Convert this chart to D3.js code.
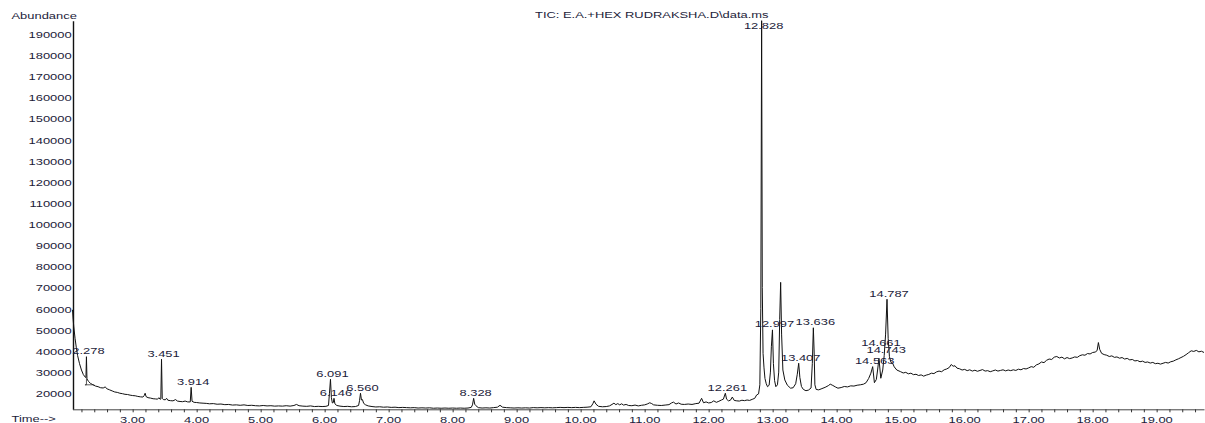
<!DOCTYPE html>
<html>
<head>
<meta charset="utf-8">
<script src="https://cdn.jsdelivr.net/npm/d3@7"></script>
<style>
  html, body { margin: 0; padding: 0; background: #fff; }
  svg { display: block; }
  text { font-family: "Liberation Sans", Arial, sans-serif; font-size: 9.5px; fill: #1c1c3a; }
</style>
</head>
<body>
<svg id="chart" width="1205" height="423"></svg>
<script>
// ---- data (time in min, abundance) ----
const title = "TIC: E.A.+HEX RUDRAKSHA.D\\data.ms";
const yTickValues = [20000, 30000, 40000, 50000, 60000, 70000, 80000, 90000, 100000,
  110000, 120000, 130000, 140000, 150000, 160000, 170000, 180000, 190000];
const xTickValues = [3, 4, 5, 6, 7, 8, 9, 10, 11, 12, 13, 14, 15, 16, 17, 18, 19];
const xTickLabels = ["3.00", "4.00", "5.00", "6.00", "7.00", "8.00", "9.00", "10.00", "11.00",
  "12.00", "13.00", "14.00", "15.00", "16.00", "17.00", "18.00", "19.00"];

// solvent front + early peaks
const traceEarly = [
  [2.06, 59500], [2.07, 55000], [2.08, 51500], [2.10, 46000], [2.12, 41500], [2.14, 37800],
  [2.17, 34000], [2.20, 31000], [2.23, 28800], [2.26, 27600], [2.27, 27400], [2.278, 37300],
  [2.286, 26800], [2.31, 25600], [2.34, 24700], [2.38, 24000], [2.42, 23400], [2.46, 23100],
  [2.50, 22600], [2.54, 22500], [2.57, 23000], [2.60, 22100], [2.64, 21600], [2.68, 21100],
  [2.72, 20600], [2.76, 20400], [2.80, 20000], [2.84, 19800], [2.88, 19500], [2.92, 19400],
  [2.96, 19100], [3.00, 18900], [3.04, 18800], [3.08, 18500], [3.12, 18300], [3.16, 18200],
  [3.18, 18900], [3.195, 20000], [3.21, 18400], [3.24, 17900], [3.28, 17700], [3.32, 17400],
  [3.36, 17300], [3.39, 17200], [3.41, 17900], [3.43, 17100], [3.44, 17300], [3.451, 36100],
  [3.462, 17600], [3.48, 17000], [3.51, 16900], [3.53, 17600], [3.55, 16700], [3.59, 16500],
  [3.63, 16400], [3.67, 17000], [3.70, 16300], [3.74, 16100], [3.78, 16000], [3.82, 16300],
  [3.86, 15900], [3.90, 15900], [3.914, 22800], [3.928, 16200], [3.96, 15700], [4.00, 15600],
  [4.05, 15400], [4.10, 15300], [4.15, 15200], [4.20, 15000], [4.26, 15100], [4.32, 14800],
  [4.38, 14900], [4.44, 14600], [4.50, 14700], [4.56, 14400], [4.62, 14500], [4.68, 14300],
  [4.74, 14500], [4.80, 14200], [4.86, 14300], [4.92, 14100], [4.98, 14000], [5.04, 14200],
  [5.10, 14000], [5.16, 14100], [5.22, 13900], [5.28, 14000], [5.34, 13900], [5.40, 14100],
  [5.46, 13900], [5.52, 14200], [5.56, 14700], [5.60, 14100], [5.66, 13900], [5.72, 13800],
  [5.78, 14000], [5.84, 13700], [5.90, 13800], [5.96, 13700]
];

// flat middle section
const traceMid = [
  [6.02, 13800], [6.06, 14200], [6.075, 20000], [6.091, 26600], [6.105, 18000], [6.12, 15400],
  [6.135, 15600], [6.146, 17600], [6.16, 15000], [6.19, 14200], [6.24, 13900], [6.30, 13700],
  [6.36, 13800], [6.42, 13600], [6.48, 13700], [6.53, 14200], [6.545, 16500], [6.560, 20000],
  [6.575, 16800], [6.59, 17000], [6.61, 15200], [6.64, 14500], [6.68, 14000], [6.74, 13700],
  [6.80, 13500], [6.86, 13600], [6.92, 13400], [6.98, 13500], [7.04, 13300], [7.10, 13400],
  [7.16, 13200], [7.22, 13300], [7.28, 13200], [7.34, 13100], [7.40, 13200], [7.46, 13000],
  [7.52, 13100], [7.58, 13000], [7.64, 13100], [7.70, 12900], [7.76, 13000], [7.82, 12900],
  [7.88, 13000], [7.94, 12900], [8.00, 13000], [8.06, 12900], [8.12, 13000], [8.18, 12900],
  [8.24, 13000], [8.29, 13300], [8.31, 14500], [8.328, 17600], [8.345, 14800], [8.36, 14200],
  [8.40, 13200], [8.46, 13000], [8.52, 13100], [8.58, 13000], [8.64, 13200], [8.70, 13400],
  [8.74, 14300], [8.78, 13400], [8.84, 13200], [8.90, 13100], [8.96, 13000], [9.02, 13100],
  [9.08, 13000], [9.14, 13100], [9.20, 13000], [9.26, 13200], [9.32, 13100], [9.38, 13200],
  [9.44, 13100], [9.50, 13200], [9.56, 13100], [9.62, 13200], [9.68, 13300], [9.74, 13200],
  [9.80, 13300], [9.86, 13200], [9.92, 13300], [9.98, 13200], [10.04, 13300], [10.10, 13400],
  [10.16, 13600], [10.19, 15000], [10.21, 16400], [10.24, 14800], [10.28, 13800], [10.34, 13600],
  [10.40, 13700], [10.45, 14000], [10.49, 14700], [10.52, 15300], [10.55, 14600], [10.58, 15100],
  [10.61, 14500], [10.64, 15000], [10.67, 14400], [10.71, 14700], [10.75, 14200], [10.80, 14100],
  [10.85, 14400], [10.90, 14000], [10.95, 14300], [11.00, 14500], [11.04, 14900], [11.08, 15500],
  [11.11, 15100], [11.14, 14500], [11.20, 14300], [11.26, 14200], [11.32, 14400], [11.38, 14600],
  [11.42, 15400], [11.45, 15800], [11.49, 14900], [11.53, 15400], [11.57, 14800], [11.62, 14700],
  [11.68, 14900], [11.74, 14700], [11.80, 15100], [11.85, 15300], [11.89, 17600], [11.92, 15500],
  [11.96, 15900], [12.00, 15400], [12.04, 15600], [12.08, 16400], [12.12, 15700], [12.16, 16200],
  [12.20, 16800], [12.23, 17200], [12.261, 20000], [12.28, 17200], [12.31, 16400], [12.34, 16700],
  [12.37, 18200], [12.40, 16600], [12.44, 16400], [12.48, 16300], [12.52, 16700], [12.56, 16500],
  [12.60, 16800], [12.64, 16600], [12.68, 17100], [12.72, 17600], [12.75, 19200], [12.78, 19700]
];

// main peak cluster
const tracePeaks = [
  [12.80, 24000], [12.815, 60000], [12.828, 196400], [12.838, 70000], [12.85, 38900], [12.865, 32000],
  [12.88, 27000], [12.90, 24500], [12.92, 23100], [12.945, 23800], [12.965, 30000], [12.98, 42000],
  [12.997, 50000], [13.012, 34000], [13.03, 26000], [13.05, 23100], [13.075, 24000], [13.095, 30000],
  [13.11, 55000], [13.125, 72500], [13.14, 48000], [13.16, 31000], [13.19, 26300], [13.23, 23800],
  [13.28, 22400], [13.32, 22600], [13.36, 24500], [13.385, 29000], [13.407, 34200], [13.425, 27500],
  [13.45, 23200], [13.48, 21800], [13.52, 21200], [13.56, 21500], [13.60, 22500], [13.62, 34000],
  [13.636, 51000], [13.648, 40000], [13.66, 24000], [13.68, 21800], [13.72, 21600], [13.77, 22200],
  [13.82, 22800], [13.87, 23600], [13.90, 24300], [13.94, 23700], [13.98, 23000], [14.02, 22400],
  [14.07, 22700], [14.12, 23200], [14.17, 23000], [14.22, 23500], [14.27, 23400], [14.32, 23800],
  [14.37, 24000], [14.42, 24300], [14.46, 25000], [14.50, 27000], [14.535, 29500], [14.563, 32600],
  [14.59, 25000], [14.62, 26500], [14.64, 31000], [14.661, 36500], [14.69, 27100], [14.72, 31000],
  [14.743, 37800], [14.765, 48000], [14.787, 64500], [14.805, 46000], [14.825, 37300], [14.85, 34500],
  [14.875, 34200], [14.90, 32500], [14.94, 31000]
];

// rising, noisy baseline to the end of the run
const traceLate = [
  [15.00, 30200], [15.04, 29600], [15.08, 29900], [15.12, 29200], [15.16, 29500], [15.20, 28800],
  [15.24, 29000], [15.28, 28400], [15.32, 28700], [15.36, 28100], [15.40, 28600], [15.44, 28900],
  [15.48, 29500], [15.52, 29300], [15.56, 30100], [15.60, 30500], [15.64, 30200], [15.68, 31100],
  [15.72, 31500], [15.76, 32200], [15.79, 33600], [15.82, 32800], [15.85, 33000], [15.88, 31900],
  [15.92, 31600], [15.96, 31000], [16.00, 31300], [16.04, 30700], [16.08, 31100], [16.12, 30500],
  [16.16, 30900], [16.20, 30400], [16.24, 30800], [16.28, 31200], [16.32, 30500], [16.36, 30700],
  [16.40, 30200], [16.44, 30600], [16.48, 31000], [16.52, 30500], [16.56, 30800], [16.60, 31100],
  [16.64, 30600], [16.68, 31000], [16.72, 30700], [16.76, 31100], [16.80, 30800], [16.84, 31400],
  [16.88, 31100], [16.92, 31700], [16.96, 31500], [17.00, 32000], [17.04, 32600], [17.08, 32300],
  [17.12, 33400], [17.16, 33900], [17.20, 34800], [17.24, 34500], [17.28, 35600], [17.32, 36200],
  [17.36, 36000], [17.40, 37100], [17.44, 37400], [17.48, 36700], [17.52, 37100], [17.56, 36300],
  [17.60, 36900], [17.64, 36400], [17.68, 36700], [17.72, 37200], [17.76, 37000], [17.80, 37800],
  [17.84, 38200], [17.88, 38000], [17.92, 38800], [17.96, 38600], [18.00, 39300], [18.04, 39500],
  [18.07, 40200], [18.09, 44000], [18.11, 40800], [18.14, 38900], [18.18, 38300], [18.22, 38000],
  [18.26, 37400], [18.30, 37700], [18.34, 37000], [18.38, 37200], [18.42, 36600], [18.46, 36900],
  [18.50, 36200], [18.54, 36500], [18.58, 35800], [18.62, 36000], [18.66, 35300], [18.70, 35500],
  [18.74, 34900], [18.78, 35200], [18.82, 34600], [18.86, 34800], [18.90, 34300], [18.94, 34600],
  [18.98, 34000], [19.02, 34200], [19.06, 33800], [19.10, 34200], [19.14, 34600], [19.18, 34300],
  [19.22, 34900], [19.26, 35200], [19.30, 35800], [19.34, 36300], [19.38, 36900], [19.42, 37500],
  [19.46, 38300], [19.50, 39200], [19.54, 40100], [19.58, 39800], [19.62, 40300], [19.66, 39600],
  [19.70, 39900], [19.74, 39300]
];

// integrated peaks that carry a retention-time label
const peakTimes = [2.278, 3.451, 3.914, 6.091, 6.146, 6.560, 8.328, 12.261,
  12.828, 12.997, 13.407, 13.636, 14.563, 14.661, 14.743, 14.787];
const peakLabels = ["2.278", "3.451", "3.914", "6.091", "6.146", "6.560", "8.328", "12.261",
  "12.828", "12.997", "13.407", "13.636", "14.563", "14.661", "14.743", "14.787"];

// integration baseline drawn under the 2.278 peak
const baselineMark = [[2.278, 27000], [2.278, 24000], [2.255, 24000], [2.40, 24000]];

// ---- drawing ----
const SX = 1.36;            // the original print is stretched horizontally
const trace = traceEarly.concat(traceMid, tracePeaks, traceLate);
const svg = d3.select("#chart");

const x = d3.scaleLinear().domain([2.06, 19.74]).range([72.5, 1204]);
const y = d3.scaleLinear().domain([12400, 196400]).range([409.3, 20.7]);

// titles
svg.append("text").attr("transform", `translate(535,18) scale(${SX},1)`).text(title);
svg.append("text").attr("transform", `translate(11.5,19.3) scale(${SX},1)`).text("Abundance");
svg.append("text").attr("transform", `translate(11.5,422.3) scale(${SX},1)`).text("Time-->");

// y axis
const gy = svg.append("g").attr("transform", "translate(73,0)")
  .call(d3.axisLeft(y).tickValues(yTickValues).tickSize(0).tickSizeOuter(0)
    .tickPadding(1).tickFormat(d3.format("d")));
gy.select(".domain").attr("stroke", "#111").attr("stroke-width", 1.4);
gy.selectAll(".tick text").attr("transform", `scale(${SX},1)`).attr("dy", "0.34em");

// x axis: minor ticks every 0.2 min
const minorTicks = d3.range(11, 99).map(i => i / 5);
const gx = svg.append("g").attr("transform", "translate(0,409.3)")
  .call(d3.axisBottom(x).tickValues(minorTicks).tickSize(3).tickSizeOuter(0).tickFormat(""));
gx.select(".domain").attr("stroke", "#444").attr("stroke-width", 1);
gx.selectAll(".tick line").attr("stroke", "#333");

svg.append("g").selectAll("text")
  .data(xTickValues)
  .enter().append("text")
    .attr("text-anchor", "middle")
    .attr("transform", d => `translate(${x(d)},422.5) scale(${SX},1)`)
    .text((d, i) => xTickLabels[i]);

// trace
const line = d3.line().x(d => x(d[0])).y(d => y(d[1]));
svg.append("path")
  .datum(trace)
  .attr("fill", "none")
  .attr("stroke", "#111")
  .attr("stroke-width", 1)
  .attr("stroke-linejoin", "round")
  .attr("d", line);

svg.append("path")
  .datum(baselineMark)
  .attr("fill", "none")
  .attr("stroke", "#333")
  .attr("stroke-width", 0.8)
  .attr("d", line);

// peak labels, tallest placed first, pushed up when they collide
const peaks = peakTimes.map((t, i) => {
  const p = trace.find(d => Math.abs(d[0] - t) < 1e-6);
  return { t, v: p[1], label: peakLabels[i] };
});
const gl = svg.append("g");
const placed = [];
peaks.slice().sort((a, b) => b.v - a.v).forEach(pk => {
  const cx = x(pk.t) + 2;
  let base = Math.max(y(pk.v) - 2.5, 29.3);
  const txt = gl.append("text").attr("text-anchor", "middle").text(pk.label);
  const w = txt.node().getComputedTextLength() * SX;
  let moved = true;
  while (moved) {
    moved = false;
    for (const b of placed) {
      if (Math.abs(b.cx - cx) < (b.w + w) / 4 && base > b.base - 7 && base - 7 < b.base) {
        base = b.base - 7.3;
        moved = true;
      }
    }
  }
  placed.push({ cx, w, base });
  txt.attr("transform", `translate(${cx},${base}) scale(${SX},1)`);
});
</script>
</body>
</html>
